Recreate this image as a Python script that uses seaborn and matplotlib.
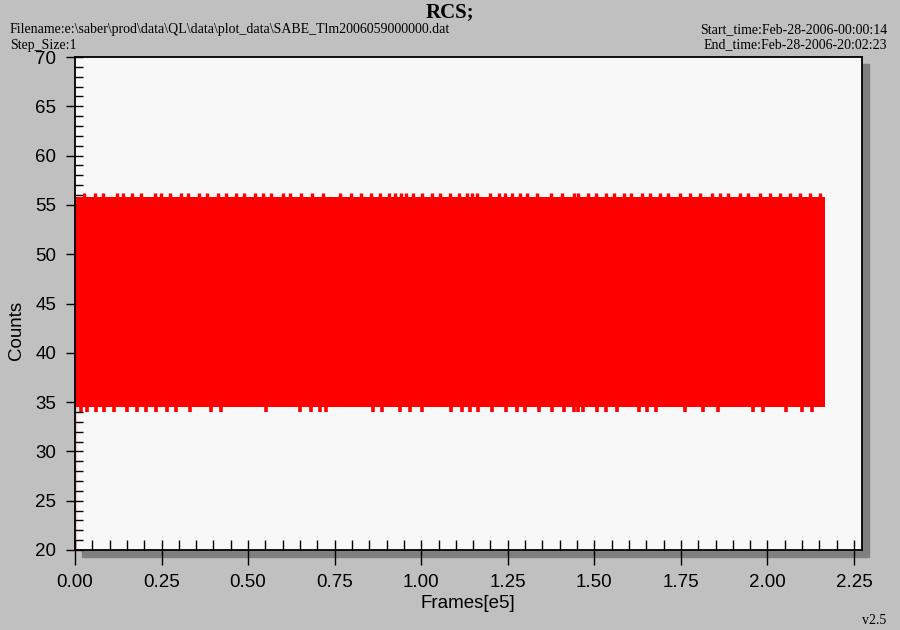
import matplotlib
matplotlib.use("Agg")
import matplotlib.pyplot as plt
import seaborn as sns
import pandas as pd
from matplotlib.patches import Rectangle
from matplotlib.ticker import MultipleLocator

# --- data (frames in units of 1e5) ---
band_frames = [0.0, 2.165]
band_low = [34.55, 34.55]
band_high = [55.85, 55.85]

# first samples: the trace climbs up from the bottom at frame 0
start_frames = [0.003, 0.003]
start_counts = [19.5, 35.0]

# places where the trace dips to the minimum count
dip_frames = [0.016, 0.036, 0.062, 0.085, 0.114, 0.149, 0.178, 0.204, 0.233, 0.267,
              0.293, 0.331, 0.394, 0.423, 0.551, 0.649, 0.681, 0.707, 0.724, 0.860,
              0.886, 0.938, 0.967, 1.001, 1.085, 1.117, 1.140, 1.163, 1.204, 1.244,
              1.276, 1.299, 1.340, 1.377, 1.412, 1.441, 1.452, 1.467, 1.507, 1.533,
              1.565, 1.629, 1.652, 1.678, 1.762, 1.814, 1.858, 1.958, 1.987, 2.054,
              2.100, 2.129]
dip_count = 34.0

# places where the trace peaks at the maximum count
peak_frames = [0.025, 0.059, 0.082, 0.120, 0.140, 0.166, 0.192, 0.230, 0.247, 0.273,
               0.305, 0.325, 0.357, 0.380, 0.412, 0.435, 0.464, 0.487, 0.519, 0.542,
               0.565, 0.600, 0.620, 0.652, 0.684, 0.715, 0.766, 0.798, 0.827, 0.856,
               0.880, 0.906, 0.923, 0.941, 0.957, 0.975, 1.001, 1.030, 1.055, 1.084,
               1.108, 1.131, 1.146, 1.160, 1.200, 1.224, 1.241, 1.262, 1.284, 1.305,
               1.334, 1.376, 1.406, 1.441, 1.452, 1.481, 1.504, 1.533, 1.556, 1.585,
               1.605, 1.637, 1.660, 1.689, 1.712, 1.747, 1.776, 1.805, 1.840, 1.863,
               1.886, 1.921, 1.944, 1.979, 2.008, 2.037, 2.066, 2.095, 2.124, 2.153]
peak_count = 56.2

title = "RCS;"
filename_text = "Filename:e:\\saber\\prod\\data\\QL\\data\\plot_data\\SABE_Tlm2006059000000.dat"
step_text = "Step_Size:1"
start_text = "Start_time:Feb-28-2006-00:00:14"
end_text = "End_time:Feb-28-2006-20:02:23"
version_text = "v2.5"

sns.set_style("white")
plt.rcParams["font.family"] = ["Liberation Sans", "DejaVu Sans"]
plt.rcParams["text.color"] = "black"
plt.rcParams["xtick.color"] = "black"
plt.rcParams["ytick.color"] = "black"
plt.rcParams["xtick.labelcolor"] = "black"
plt.rcParams["ytick.labelcolor"] = "black"

W, H = 900, 630
fig = plt.figure(figsize=(9, 6.3), dpi=100, facecolor="#c0c0c0")
left, right, top, bottom = 75, 862, 57, 550
ax = fig.add_axes([left / W, 1 - bottom / H, (right - left) / W, (bottom - top) / H])
ax.set_facecolor("#f8f8f8")
ax.set_zorder(2)

# drop shadow behind the plot area
fig.patches.append(Rectangle(((left + 7) / W, 1 - (bottom + 7) / H),
                             (right - left) / W, (bottom - top) / H,
                             transform=fig.transFigure, color="#808080", zorder=0))

red = "#ff0000"
ax.fill_between(band_frames, band_low, band_high, color=red, lw=0, zorder=2)
ax.vlines(dip_frames, dip_count, band_low[0] + 0.1, color=red, lw=2.6, zorder=2)
ax.vlines(peak_frames, band_high[0] - 0.1, peak_count, color=red, lw=2.4, zorder=2)
sns.lineplot(x=start_frames, y=start_counts, color=red, lw=1.6, sort=False,
             ax=ax, zorder=3)

ax.set_xlim(0, 2.273)
ax.set_ylim(20, 70)
ax.xaxis.set_major_locator(MultipleLocator(0.25))
ax.xaxis.set_minor_locator(MultipleLocator(0.05))
ax.yaxis.set_major_locator(MultipleLocator(5))
ax.yaxis.set_minor_locator(MultipleLocator(1))
ax.xaxis.remove_overlapping_locs = False
ax.yaxis.remove_overlapping_locs = False
ax.xaxis.set_major_formatter(lambda v, p: f"{v:.2f}")
ax.yaxis.set_major_formatter(lambda v, p: f"{v:.0f}")

ax.tick_params(axis="x", which="major", direction="out", length=11, width=1,
               labelsize=13.5, pad=6, colors="black")
ax.tick_params(axis="x", which="minor", direction="in", length=7.5, width=1)
ax.tick_params(axis="y", which="major", direction="out", length=6.5, width=1,
               labelsize=13.5, pad=7, colors="black")
ax.tick_params(axis="y", which="minor", direction="in", length=6, width=1)
ax.xaxis.set_ticks_position("bottom")
ax.yaxis.set_ticks_position("left")
for s in ax.spines.values():
    s.set_color("black")
    s.set_linewidth(1.3)

ax.set_xlabel("")
ax.set_ylabel("")
fig.text(468 / W, 1 - 604 / H, "Frames[e5]", ha="center", va="center", fontsize=13.5,
         color="black")
fig.text(16 / W, 1 - 330 / H, "Counts", ha="center", va="center", fontsize=13.5,
         rotation=90, color="black")

serif = ["Liberation Serif", "DejaVu Serif"]
fig.text(450 / W, 1 - 12 / H, title, ha="center", va="center", fontsize=15,
         fontweight="bold", family=serif, color="black")
for x, y, s, ha in [(10, 30, filename_text, "left"), (10, 45, step_text, "left"),
                    (887, 30, start_text, "right"), (887, 45, end_text, "right"),
                    (886, 621, version_text, "right")]:
    fig.text(x / W, 1 - y / H, s, ha=ha, va="center", fontsize=10, family=serif,
             color="black")

fig.savefig("out.png", dpi=100, facecolor=fig.get_facecolor())
